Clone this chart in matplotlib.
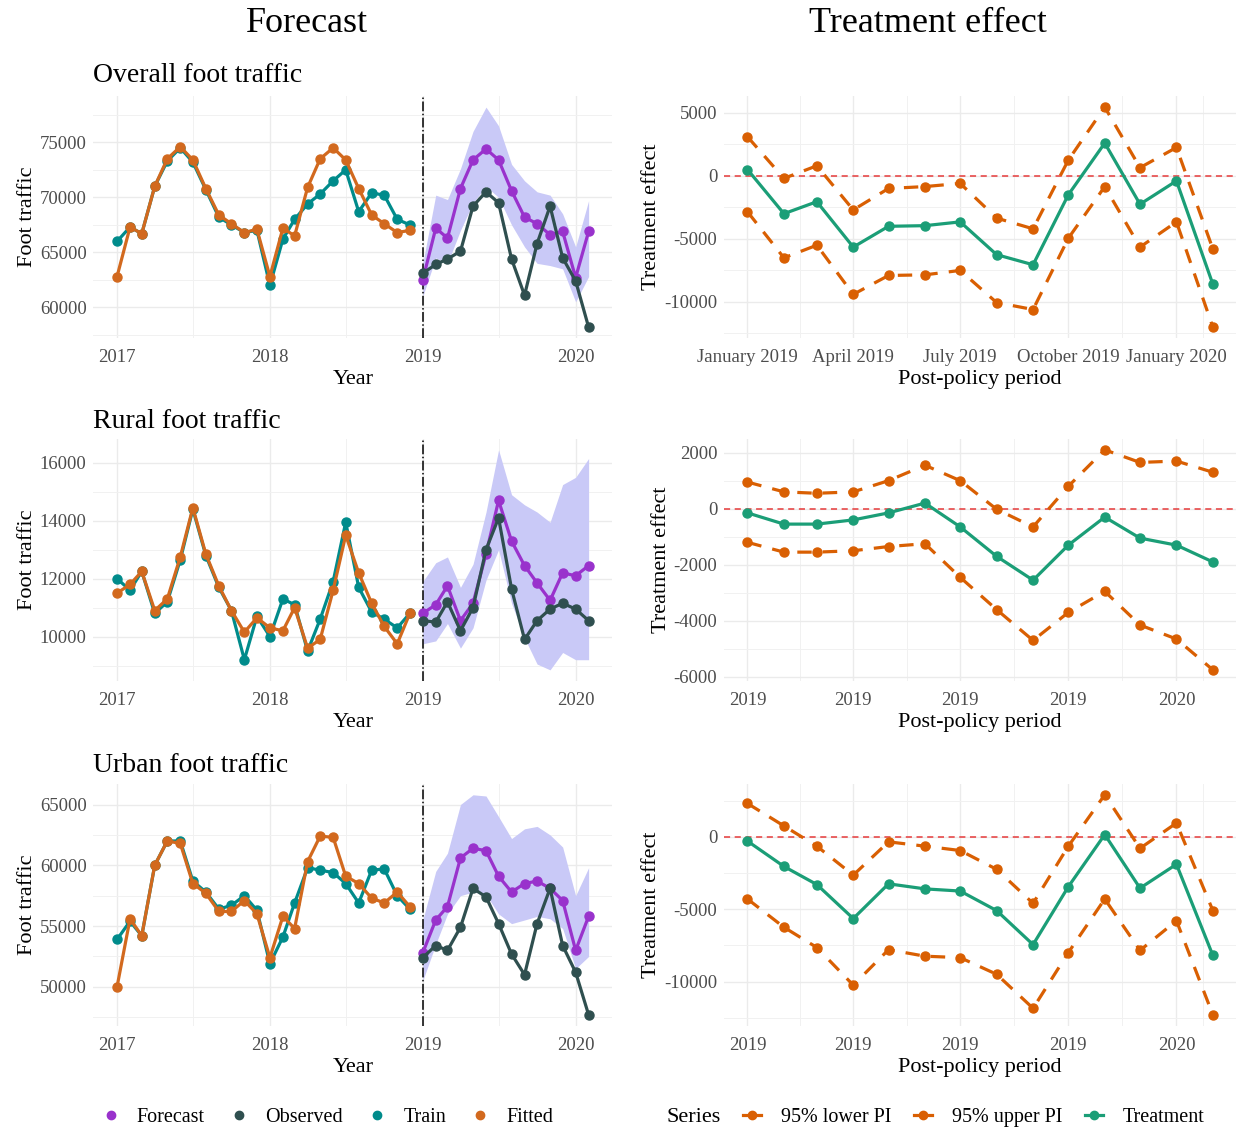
import numpy as np
import pandas as pd
import matplotlib
matplotlib.use('Agg')
import matplotlib.pyplot as plt
import matplotlib.dates as mdates
from matplotlib.ticker import MultipleLocator, FuncFormatter
from matplotlib.lines import Line2D

plt.rcParams['font.family'] = ['Liberation Serif', 'DejaVu Serif']

train_months = pd.date_range('2017-01-01', periods=24, freq='MS')
fc_months = pd.date_range('2019-01-01', periods=14, freq='MS')

# Overall foot traffic
overall_train = [66000, 67300, 66700, 71000, 73300, 74500, 73200, 70700, 68200, 67500, 66800, 67000,
                 62000, 66200, 68000, 69400, 70300, 71500, 72500, 68700, 70400, 70200, 68000, 67500]
overall_fitted = [62800, 67300, 66700, 71000, 73500, 74600, 73400, 70800, 68400, 67600, 66800, 67100,
                  62800, 67200, 66500, 70900, 73500, 74500, 73400, 70800, 68400, 67600, 66800, 67000]
overall_fc = [62500, 67200, 66300, 70800, 73400, 74400, 73400, 70600, 68200, 67600, 66600, 66900, 62700, 66900]
overall_obs = [63100, 63900, 64400, 65100, 69200, 70500, 69500, 64400, 61100, 65800, 69200, 64500, 62400, 58200]
overall_lo = [61000, 64500, 64000, 67000, 69500, 71000, 70000, 67500, 65500, 64000, 63800, 63500, 60500, 62800]
overall_hi = [64000, 70200, 69800, 72600, 76000, 78200, 76500, 73000, 71500, 70500, 70200, 68500, 65500, 69700]

# Rural foot traffic
rural_train = [12000, 11600, 12250, 10800, 11200, 12650, 14400, 12800, 11700, 10900, 9200, 10700,
               10000, 11300, 11100, 9500, 10600, 11900, 13950, 11700, 10850, 10600, 10300, 10800]
rural_fitted = [11500, 11800, 12250, 10900, 11300, 12750, 14450, 12850, 11750, 10900, 10150, 10650,
                10300, 10200, 11000, 9600, 9900, 11600, 13500, 12200, 11150, 10350, 9750, 10800]
rural_fc = [10800, 11100, 11750, 10550, 11150, 12850, 14700, 13300, 12450, 11850, 11250, 12200, 12100, 12450]
rural_obs = [10550, 10500, 11200, 10200, 11000, 13000, 14100, 11650, 9900, 10550, 10950, 11150, 10950, 10550]
rural_lo = [9750, 9850, 10450, 9600, 10300, 11950, 13000, 11150, 9950, 9050, 8850, 9450, 9200, 9200]
rural_hi = [11900, 12550, 12750, 11700, 12500, 14300, 16450, 14900, 14550, 14300, 13950, 15250, 15500, 16150]

# Urban foot traffic
urban_train = [53900, 55400, 54200, 60000, 62000, 62000, 58700, 57800, 56400, 56700, 57500, 56300,
               51900, 54100, 56900, 59800, 59600, 59400, 58500, 56900, 59600, 59700, 57500, 56400]
urban_fitted = [50000, 55600, 54200, 60000, 62000, 61800, 58500, 57700, 56200, 56200, 57100, 56000,
                52400, 55800, 54800, 60300, 62400, 62300, 59100, 58500, 57300, 56900, 57800, 56600]
urban_fc = [52800, 55500, 56600, 60600, 61400, 61200, 59100, 57800, 58500, 58700, 58100, 57100, 53000, 55800]
urban_obs = [52400, 53400, 53000, 54900, 58100, 57400, 55200, 52700, 51000, 55200, 58100, 53400, 51200, 47700]
urban_lo = [50500, 53500, 56000, 57500, 57800, 57600, 56000, 55200, 55500, 55800, 55600, 54800, 51500, 52500]
urban_hi = [55500, 59500, 61000, 65000, 65800, 65700, 64000, 62200, 63000, 63200, 62500, 61500, 57500, 59800]

# Treatment effects (post-policy period)
overall_te = [500, -3000, -2050, -5650, -4000, -3950, -3650, -6250, -7050, -1500, 2600, -2250, -400, -8600]
overall_te_hi = [3100, -200, 800, -2700, -1000, -850, -600, -3350, -4200, 1250, 5450, 650, 2250, -5800]
overall_te_lo = [-2850, -6500, -5500, -9400, -7900, -7850, -7500, -10050, -10600, -4950, -850, -5650, -3650, -12000]

rural_te = [-150, -550, -550, -400, -150, 200, -650, -1700, -2550, -1300, -300, -1050, -1300, -1900]
rural_te_hi = [950, 600, 550, 600, 1000, 1550, 1000, -20, -650, 800, 2100, 1650, 1700, 1300]
rural_te_lo = [-1200, -1550, -1550, -1500, -1350, -1250, -2450, -3600, -4700, -3700, -2950, -4150, -4650, -5750]

urban_te = [-300, -2050, -3300, -5650, -3250, -3600, -3750, -5100, -7450, -3450, 150, -3550, -1900, -8200]
urban_te_hi = [2300, 750, -650, -2650, -350, -650, -950, -2250, -4600, -650, 2900, -800, 950, -5100]
urban_te_lo = [-4300, -6250, -7650, -10250, -7800, -8250, -8350, -9500, -11850, -8000, -4300, -7850, -5800, -12300]

te_breaks = pd.to_datetime(['2019-01-01', '2019-04-01', '2019-07-01', '2019-10-01', '2020-01-01'])

c_fc, c_obs, c_train, c_fit = '#9932CC', '#2F4F4F', '#008B8B', '#D2691E'
c_ribbon = '#C9C9F7'
c_treat, c_pi = '#1B9E77', '#D95F02'
tick_col = '#4D4D4D'

fig = plt.figure(figsize=(12.38, 11.31), dpi=100)

bottoms = [0.701, 0.398, 0.093]
height = 0.214
left_axes = [fig.add_axes([0.0755, b, 0.419, height]) for b in bottoms]
right_axes = [fig.add_axes([0.585, b, 0.4135, height]) for b in bottoms]


def style(ax, major, minor):
    ax.yaxis.set_major_locator(MultipleLocator(major))
    ax.yaxis.set_minor_locator(MultipleLocator(minor))
    ax.yaxis.set_major_formatter(FuncFormatter(lambda v, p: f'{v:.0f}'))
    ax.grid(which='major', color='#EBEBEB', lw=1.0)
    ax.grid(which='minor', color='#F1F1F1', lw=0.7)
    ax.set_axisbelow(True)
    for s in ax.spines.values():
        s.set_visible(False)
    ax.tick_params(which='both', length=0, labelsize=13.5, labelcolor=tick_col)
    ax.tick_params(axis='x', pad=8)
    ax.tick_params(axis='y', pad=5)


def forecast_panel(ax, train, fitted, fc, obs, lo, hi, major, minor):
    ax.fill_between(fc_months, lo, hi, color=c_ribbon, lw=0)
    ax.axvline(pd.Timestamp('2019-01-01'), color='black', lw=1.1, ls='-.')
    kw = dict(lw=2.3, marker='o', ms=6.5)
    ax.plot(train_months, train, color=c_train, **kw)
    ax.plot(train_months, fitted, color=c_fit, **kw)
    ax.plot(fc_months, fc, color=c_fc, **kw)
    ax.plot(fc_months, obs, color=c_obs, **kw)
    style(ax, major, minor)
    ax.xaxis.set_major_locator(mdates.YearLocator())
    ax.xaxis.set_major_formatter(mdates.DateFormatter('%Y'))
    ax.xaxis.set_minor_locator(mdates.MonthLocator(bymonth=7, bymonthday=2))
    ax.set_xlabel('Year', fontsize=16, labelpad=3)
    ax.set_ylabel('Foot traffic', fontsize=16, labelpad=2)


def effect_panel(ax, te, lo, hi, major, minor, fmt):
    ax.axhline(0, color='#E63A3A', lw=1.1, dashes=(4, 3))
    kw = dict(lw=2.3, marker='o', ms=6.5)
    ax.plot(fc_months, lo, color=c_pi, dashes=(4.5, 3.5), **kw)
    ax.plot(fc_months, hi, color=c_pi, dashes=(4.5, 3.5), **kw)
    ax.plot(fc_months, te, color=c_treat, **kw)
    style(ax, major, minor)
    first, last = mdates.date2num(fc_months[0]), mdates.date2num(fc_months[-1])
    pad = 0.05 * (last - first)
    nums = mdates.date2num(te_breaks)
    step = nums[1] - nums[0]
    mids = np.concatenate([(nums[:-1] + nums[1:]) / 2, [nums[-1] + step / 4]])
    ax.set_xticks(te_breaks)
    ax.set_xticklabels(te_breaks.strftime(fmt))
    ax.set_xticks(mids, minor=True)
    ax.set_xlim(first - pad, last + pad)
    ax.set_xlabel('Post-policy period', fontsize=16, labelpad=3)
    ax.set_ylabel('Treatment effect', fontsize=16, labelpad=2)


forecast_panel(left_axes[0], overall_train, overall_fitted, overall_fc, overall_obs,
               overall_lo, overall_hi, 5000, 2500)
forecast_panel(left_axes[1], rural_train, rural_fitted, rural_fc, rural_obs,
               rural_lo, rural_hi, 2000, 1000)
forecast_panel(left_axes[2], urban_train, urban_fitted, urban_fc, urban_obs,
               urban_lo, urban_hi, 5000, 2500)

effect_panel(right_axes[0], overall_te, overall_te_lo, overall_te_hi, 5000, 2500, '%B %Y')
effect_panel(right_axes[1], rural_te, rural_te_lo, rural_te_hi, 2000, 1000, '%Y')
effect_panel(right_axes[2], urban_te, urban_te_lo, urban_te_hi, 5000, 2500, '%Y')

# column headers and panel titles
fig.text(307 / 1238, 1 - 24 / 1131, 'Forecast', fontsize=26, ha='center', va='center')
fig.text(928 / 1238, 1 - 24 / 1131, 'Treatment effect', fontsize=26, ha='center', va='center')
for title, ypix in [('Overall foot traffic', 76), ('Rural foot traffic', 421), ('Urban foot traffic', 765)]:
    fig.text(93 / 1238, 1 - ypix / 1131, title, fontsize=20, ha='left', va='center')

# legends
left_handles = [Line2D([], [], color=c, marker='o', ls='none', ms=6)
                for c in [c_fc, c_obs, c_train, c_fit]]
fig.legend(left_handles, ['Forecast', 'Observed', 'Train', 'Fitted'], loc='center',
           bbox_to_anchor=(328 / 1238, 1 - 1117 / 1131), ncol=4, frameon=False,
           fontsize=14.5, handlelength=0.8, handletextpad=0.9, columnspacing=1.3)
right_handles = [Line2D([], [], color=c, marker='o', lw=2.3, ms=6) for c in [c_pi, c_pi, c_treat]]
fig.legend(right_handles, ['95% lower PI', '95% upper PI', 'Treatment'], loc='center',
           bbox_to_anchor=(974 / 1238, 1 - 1117 / 1131), ncol=3, frameon=False,
           fontsize=14.5, handlelength=0.9, handletextpad=1.0, columnspacing=1.1)
fig.text(694 / 1238, 1 - 1117 / 1131, 'Series', fontsize=16, ha='center', va='center')

fig.savefig('out.png', dpi=100)
